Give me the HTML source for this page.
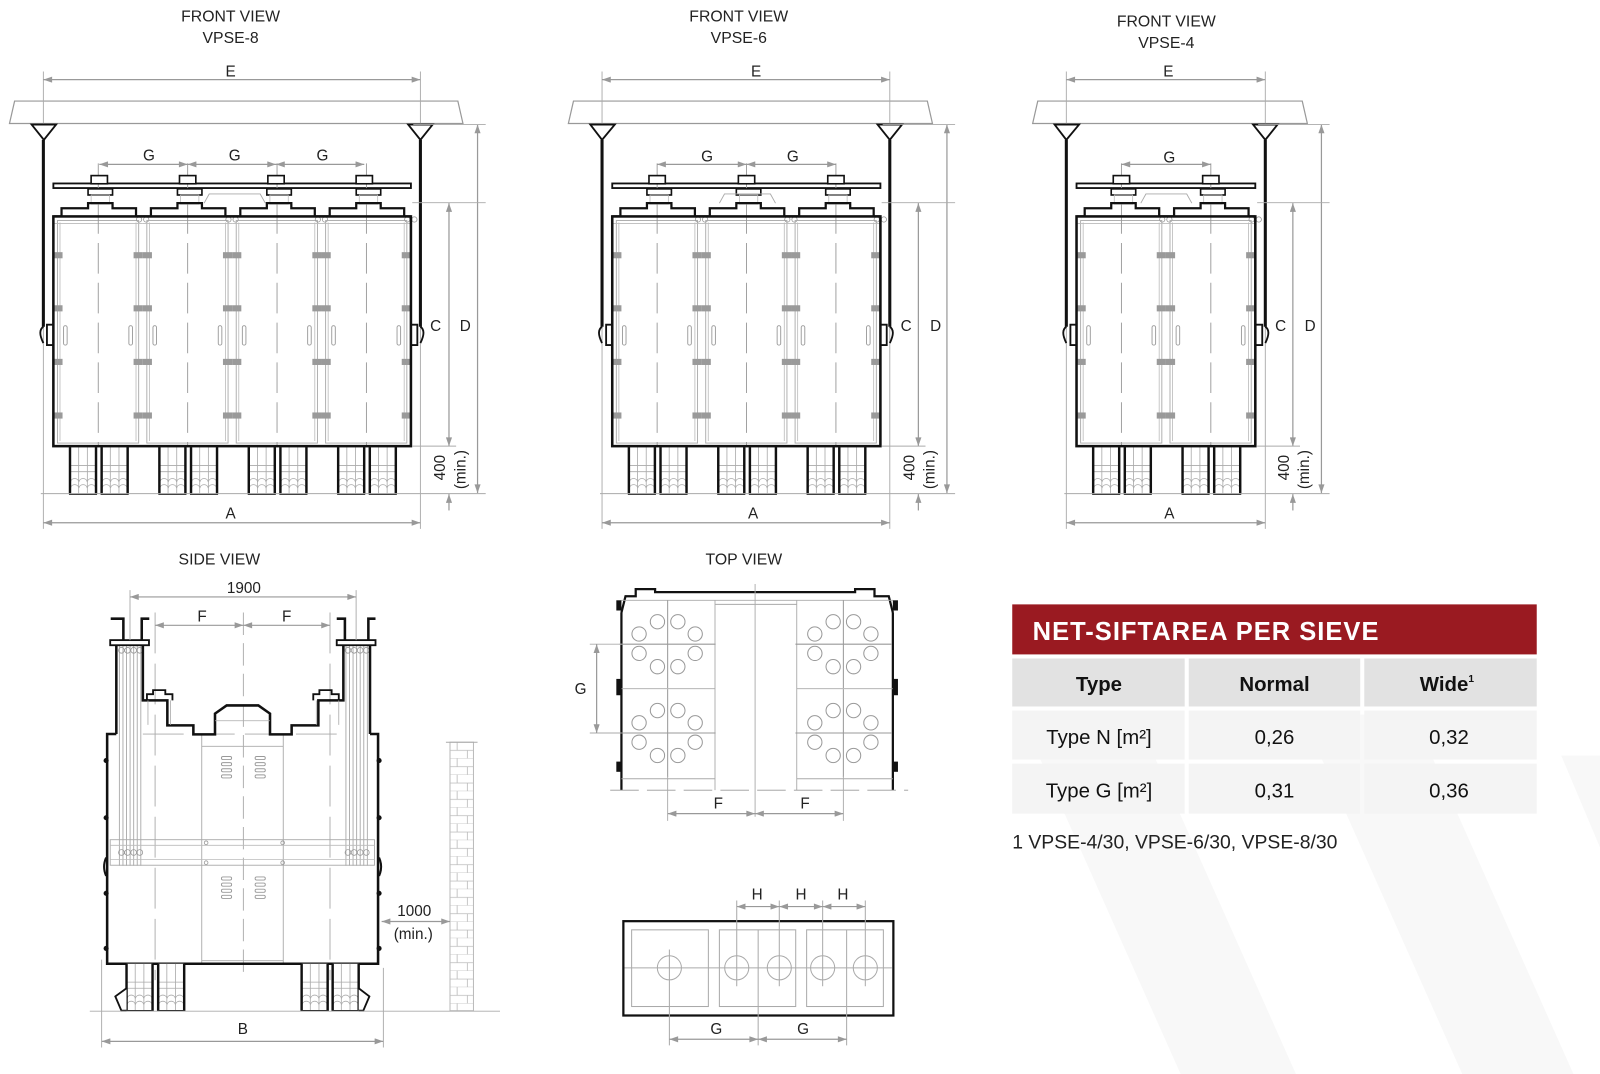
<!DOCTYPE html>
<html><head><meta charset="utf-8"><style>
html,body{margin:0;padding:0;background:#fff;}
svg{display:block;font-family:"Liberation Sans",sans-serif;}
</style></head><body>
<svg width="1600" height="1074" viewBox="0 0 1568 1052" preserveAspectRatio="none" xmlns="http://www.w3.org/2000/svg">
<defs>
<marker id="ar" viewBox="0 0 10 7" refX="10" refY="3.5" markerWidth="9" markerHeight="6" markerUnits="userSpaceOnUse" orient="auto-start-reverse"><path d="M0,0L10,3.5L0,7z" fill="#999"/></marker>
<pattern id="brick" x="441" y="727" width="23" height="16" patternUnits="userSpaceOnUse"><rect width="23" height="16" fill="#fff"/><path d="M0,8H23M0,16H23M7,0V8M17,8V16" stroke="#bbb" stroke-width="0.8"/></pattern>
<g id="leg">
 <rect x="0" y="0" width="25.5" height="46" fill="#fff" stroke="none"/>
 <path d="M8.5,0V46M17,0V46M0,18H25.5M0,24H25.5" stroke="#aaa" stroke-width="0.8" fill="none"/>
 <path d="M0.5,40a4.2,4.2 0 0 1 8.2,0a4.2,4.2 0 0 1 8.2,0a4.2,4.2 0 0 1 8.2,0M0.5,34a4.2,4.2 0 0 1 8.2,0a4.2,4.2 0 0 1 8.2,0a4.2,4.2 0 0 1 8.2,0" stroke="#aaa" stroke-width="0.8" fill="none"/>
 <path d="M0,0V46M25.5,0V46" stroke="#111" stroke-width="2.4"/>
 <path d="M-1,46H26.5" stroke="#111" stroke-width="1.5"/>
</g>
<g id="mod">
 <rect x="4" y="4" width="79.6" height="218" fill="none" stroke="#aaa" stroke-width="0.9"/>
 <path d="M6.5,6V220M81,6V220M0,7H87.6" stroke="#bbb" stroke-width="0.8" fill="none"/>
 <path d="M44,-52V226" stroke="#999" stroke-width="0.9" stroke-dasharray="30 9"/>
 <g fill="#9a9a9a">
  <rect x="0" y="35" width="9" height="6"/><rect x="78.6" y="35" width="9" height="6"/>
  <rect x="0" y="87" width="9" height="6"/><rect x="78.6" y="87" width="9" height="6"/>
  <rect x="0" y="139.5" width="9" height="6"/><rect x="78.6" y="139.5" width="9" height="6"/>
  <rect x="0" y="192" width="9" height="6"/><rect x="78.6" y="192" width="9" height="6"/>
 </g>
 <rect x="10" y="107" width="3.5" height="19" rx="1.7" fill="none" stroke="#999" stroke-width="0.9"/>
 <rect x="74" y="107" width="3.5" height="19" rx="1.7" fill="none" stroke="#999" stroke-width="0.9"/>
 <use href="#leg" x="16.3" y="226"/>
 <use href="#leg" x="47.3" y="226"/>
 <rect x="34" y="-27" width="24" height="6" fill="#fff" stroke="#111" stroke-width="1.6"/>
 <rect x="37" y="-21" width="18" height="9" fill="none" stroke="#bbb" stroke-width="0.8"/>
 <path d="M0,0H8V-8H34V-13H58V-8H81V0H87.6" fill="none" stroke="#111" stroke-width="2.2"/>
 <circle cx="84" cy="3" r="2.6" fill="none" stroke="#999" stroke-width="0.8"/>
 <circle cx="91" cy="3" r="2.6" fill="none" stroke="#999" stroke-width="0.8"/>
</g>
<g id="topbolt"><rect x="-8" y="-8" width="16" height="8" fill="#fff" stroke="#111" stroke-width="1.6"/></g>
<g id="cl"><circle cx="-28" cy="-10" r="7"/><circle cx="-10" cy="-22" r="7"/><circle cx="10" cy="-22" r="7"/><circle cx="27" cy="-10" r="7"/><circle cx="-28" cy="9" r="7"/><circle cx="-10" cy="22" r="7"/><circle cx="10" cy="22" r="7"/><circle cx="27" cy="9" r="7"/><path d="M-47,0H47M0,-43V43"/></g>
</defs>

<g fill="#f8f8f8">
<polygon points="1000,700 1113,700 1270,1052 1157,1052"/>
<polygon points="1276,700 1385,700 1542,1052 1433,1052"/>
<polygon points="1530,740 1568,740 1568,830"/>
</g>

<g font-size="15.5" fill="#222" text-anchor="middle">
<text x="226" y="21">FRONT VIEW</text><text x="226" y="42">VPSE-8</text>
<text x="724" y="21">FRONT VIEW</text><text x="724" y="42">VPSE-6</text>
<text x="1143" y="26">FRONT VIEW</text><text x="1143" y="47">VPSE-4</text>
<text x="215" y="553">SIDE VIEW</text>
<text x="729" y="553">TOP VIEW</text>
</g>

<g>
 <polygon points="9.3,121 14.3,99 448.7,99 453.7,121" fill="#fff" stroke="#999" stroke-width="1.2"/>
 <path d="M42.5,70V518M412,70V518" stroke="#aaa" stroke-width="0.9"/>
 <line x1="42.5" y1="78" x2="412" y2="78" stroke="#999" stroke-width="1.3" marker-start="url(#ar)" marker-end="url(#ar)"/>
 <rect x="52.3" y="179.7" width="350.4" height="4.5" fill="#fff" stroke="#111" stroke-width="1.8"/>
 <use href="#mod" x="52.3" y="212"/><use href="#mod" x="139.9" y="212"/><use href="#mod" x="227.5" y="212"/><use href="#mod" x="315.1" y="212"/>
 <use href="#topbolt" x="97.3" y="180"/><use href="#topbolt" x="183.9" y="180"/><use href="#topbolt" x="270.5" y="180"/><use href="#topbolt" x="357" y="180"/>
 <rect x="52.3" y="212" width="350.4" height="225" fill="none" stroke="#111" stroke-width="2.5"/>
 <path d="M200,199L205,190H255L260,199" fill="none" stroke="#aaa" stroke-width="0.9"/>
 <path d="M42.5,137V320M412,137V320" stroke="#111" stroke-width="3"/>
 <path d="M31,122H55L43,137zM400,122H424L412,137z" fill="#fff" stroke="#111" stroke-width="1.8"/>
 <path d="M42.5,320q-6,4 0,16M52.3,318H46V338H52.3M412,320q6,4 0,16M402.7,318H409V338H402.7" fill="none" stroke="#111" stroke-width="1.8"/>
 <g stroke="#999" stroke-width="1.2" marker-start="url(#ar)" marker-end="url(#ar)">
  <line x1="97.3" y1="161" x2="183.9" y2="161"/><line x1="183.9" y1="161" x2="270.5" y2="161"/><line x1="270.5" y1="161" x2="357" y2="161"/>
  <line x1="440" y1="199" x2="440" y2="437"/><line x1="468" y1="122" x2="468" y2="483"/>
  <line x1="42.5" y1="512" x2="412" y2="512"/>
 </g>
 <path d="M440,500V484" stroke="#999" stroke-width="1.2" marker-end="url(#ar)"/>
 <path d="M404,198.5H476M404,437H447M405,122H476M40,483.5H476" stroke="#aaa" stroke-width="0.9"/>
 <g font-size="15" fill="#222" text-anchor="middle">
  <text x="226" y="75">E</text><text x="146" y="157">G</text><text x="230" y="157">G</text><text x="316" y="157">G</text>
  <text x="427" y="324">C</text><text x="456" y="324">D</text><text x="226" y="508">A</text>
  <text transform="translate(436,458) rotate(-90)">400</text><text transform="translate(456,460) rotate(-90)">(min.)</text>
 </g>
</g>

<g>
 <polygon points="557,121 562,99 908.8,99 913.8,121" fill="#fff" stroke="#999" stroke-width="1.2"/>
 <path d="M590,70V518M872,70V518" stroke="#aaa" stroke-width="0.9"/>
 <line x1="590" y1="78" x2="872" y2="78" stroke="#999" stroke-width="1.3" marker-start="url(#ar)" marker-end="url(#ar)"/>
 <rect x="600" y="179.7" width="262.8" height="4.5" fill="#fff" stroke="#111" stroke-width="1.8"/>
 <use href="#mod" x="600" y="212"/><use href="#mod" x="687.6" y="212"/><use href="#mod" x="775.2" y="212"/>
 <use href="#topbolt" x="644" y="180"/><use href="#topbolt" x="731.6" y="180"/><use href="#topbolt" x="819.2" y="180"/>
 <rect x="600" y="212" width="262.8" height="225" fill="none" stroke="#111" stroke-width="2.5"/>
 <path d="M705,199L710,190H755L760,199" fill="none" stroke="#aaa" stroke-width="0.9"/>
 <path d="M590,137V320M872,137V320" stroke="#111" stroke-width="3"/>
 <path d="M578.5,122H602.5L590,137zM860,122H884L872,137z" fill="#fff" stroke="#111" stroke-width="1.8"/>
 <path d="M590,320q-6,4 0,16M600,318H594V338H600M872,320q6,4 0,16M862.8,318H869V338H862.8" fill="none" stroke="#111" stroke-width="1.8"/>
 <g stroke="#999" stroke-width="1.2" marker-start="url(#ar)" marker-end="url(#ar)">
  <line x1="644" y1="161" x2="731.6" y2="161"/><line x1="731.6" y1="161" x2="819.2" y2="161"/>
  <line x1="900" y1="199" x2="900" y2="437"/><line x1="928" y1="122" x2="928" y2="483"/>
  <line x1="590" y1="512" x2="872" y2="512"/>
 </g>
 <path d="M900,500V484" stroke="#999" stroke-width="1.2" marker-end="url(#ar)"/>
 <path d="M864,198.5H936M864,437H907M865,122H936M588,483.5H936" stroke="#aaa" stroke-width="0.9"/>
 <g font-size="15" fill="#222" text-anchor="middle">
  <text x="741" y="75">E</text><text x="693" y="158">G</text><text x="777" y="158">G</text>
  <text x="888" y="324">C</text><text x="917" y="324">D</text><text x="738" y="508">A</text>
  <text transform="translate(896,458) rotate(-90)">400</text><text transform="translate(916,460) rotate(-90)">(min.)</text>
 </g>
</g>

<g>
 <polygon points="1012,121 1017,99 1276.2,99 1281.2,121" fill="#fff" stroke="#999" stroke-width="1.2"/>
 <path d="M1045,70V518M1240,70V518" stroke="#aaa" stroke-width="0.9"/>
 <line x1="1045" y1="78" x2="1240" y2="78" stroke="#999" stroke-width="1.3" marker-start="url(#ar)" marker-end="url(#ar)"/>
 <rect x="1055" y="179.7" width="175.2" height="4.5" fill="#fff" stroke="#111" stroke-width="1.8"/>
 <use href="#mod" x="1055" y="212"/><use href="#mod" x="1142.6" y="212"/>
 <use href="#topbolt" x="1099" y="180"/><use href="#topbolt" x="1186.6" y="180"/>
 <rect x="1055" y="212" width="175.2" height="225" fill="none" stroke="#111" stroke-width="2.5"/>
 <path d="M1118,199L1123,190H1163L1168,199" fill="none" stroke="#aaa" stroke-width="0.9"/>
 <path d="M1045,137V320M1240,137V320" stroke="#111" stroke-width="3"/>
 <path d="M1033.5,122H1057.5L1045,137zM1228,122H1252L1240,137z" fill="#fff" stroke="#111" stroke-width="1.8"/>
 <path d="M1045,320q-6,4 0,16M1055,318H1049V338H1055M1240,320q6,4 0,16M1230.2,318H1237V338H1230.2" fill="none" stroke="#111" stroke-width="1.8"/>
 <g stroke="#999" stroke-width="1.2" marker-start="url(#ar)" marker-end="url(#ar)">
  <line x1="1099" y1="161" x2="1186.6" y2="161"/>
  <line x1="1267" y1="199" x2="1267" y2="437"/><line x1="1295" y1="122" x2="1295" y2="483"/>
  <line x1="1045" y1="512" x2="1240" y2="512"/>
 </g>
 <path d="M1267,500V484" stroke="#999" stroke-width="1.2" marker-end="url(#ar)"/>
 <path d="M1232,198.5H1303M1232,437H1274M1233,122H1303M1043,483.5H1303" stroke="#aaa" stroke-width="0.9"/>
 <g font-size="15" fill="#222" text-anchor="middle">
  <text x="1145" y="75">E</text><text x="1146" y="159">G</text>
  <text x="1255" y="324">C</text><text x="1284" y="324">D</text><text x="1146" y="508">A</text>
  <text transform="translate(1263,458) rotate(-90)">400</text><text transform="translate(1283,460) rotate(-90)">(min.)</text>
 </g>
</g>

<g>
 <g stroke="#aaa" stroke-width="0.9">
  <path d="M117,632V848M120.5,632V848M124,632V848M127.5,632V848M131,632V848M134.5,632V848M138,632V848"/>
  <path d="M339,632V848M342.5,632V848M346,632V848M349.5,632V848M353,632V848M356.5,632V848M360,632V848"/>
 </g>
 <g fill="none" stroke="#999" stroke-width="0.8">
  <circle cx="119" cy="637" r="2.8"/><circle cx="125" cy="637" r="2.8"/><circle cx="131" cy="637" r="2.8"/><circle cx="137" cy="637" r="2.8"/>
  <circle cx="341" cy="637" r="2.8"/><circle cx="347" cy="637" r="2.8"/><circle cx="353" cy="637" r="2.8"/><circle cx="359" cy="637" r="2.8"/>
 </g>
 <path d="M140,719H336M152,600V960M323.4,600V960" stroke="#aaa" stroke-width="0.9" stroke-dasharray="40 10"/>
 <path d="M197.7,719V944M277.6,719V944M197.7,731H277.6M197.7,941H277.6" stroke="#aaa" stroke-width="0.9" fill="none"/>
 <path d="M238.5,600V955" stroke="#aaa" stroke-width="0.9" stroke-dasharray="22 8"/>
 <rect x="108" y="822.5" width="259" height="25" fill="none" stroke="#aaa" stroke-width="0.9"/>
 <path d="M108,828H367M108,842H367" stroke="#bbb" stroke-width="0.8"/>
 <g fill="none" stroke="#999" stroke-width="0.8">
  <circle cx="202" cy="825.5" r="1.8"/><circle cx="277" cy="825.5" r="1.8"/><circle cx="202" cy="845" r="1.8"/><circle cx="277" cy="845" r="1.8"/>
  <circle cx="119" cy="835" r="2.8"/><circle cx="125" cy="835" r="2.8"/><circle cx="131" cy="835" r="2.8"/><circle cx="137" cy="835" r="2.8"/>
  <circle cx="341" cy="835" r="2.8"/><circle cx="347" cy="835" r="2.8"/><circle cx="353" cy="835" r="2.8"/><circle cx="359" cy="835" r="2.8"/>
 </g>
 <g fill="none" stroke="#999" stroke-width="0.9">
  <rect x="217" y="741" width="10" height="3" rx="1.5"/><rect x="217" y="747" width="10" height="3" rx="1.5"/><rect x="217" y="753" width="10" height="3" rx="1.5"/><rect x="217" y="759" width="10" height="3" rx="1.5"/>
  <rect x="250" y="741" width="10" height="3" rx="1.5"/><rect x="250" y="747" width="10" height="3" rx="1.5"/><rect x="250" y="753" width="10" height="3" rx="1.5"/><rect x="250" y="759" width="10" height="3" rx="1.5"/>
  <rect x="217" y="859" width="10" height="3" rx="1.5"/><rect x="217" y="865" width="10" height="3" rx="1.5"/><rect x="217" y="871" width="10" height="3" rx="1.5"/><rect x="217" y="877" width="10" height="3" rx="1.5"/>
  <rect x="250" y="859" width="10" height="3" rx="1.5"/><rect x="250" y="865" width="10" height="3" rx="1.5"/><rect x="250" y="871" width="10" height="3" rx="1.5"/><rect x="250" y="877" width="10" height="3" rx="1.5"/>
 </g>
 <path d="M114,719H105V944H370.5V719H362.6" fill="none" stroke="#111" stroke-width="2.5"/>
 <path d="M114,632V719M140,632V686H164V710.5H189.5V719.3H210.7V699L222.1,691H253.2L264.6,699V719.3H285.8V710.5H312V686H336.5V632M362.6,632V719" fill="none" stroke="#111" stroke-width="2.5"/>
 <path d="M144,686V680H150V676H162V680H169V686M307,686V680H313V676H325V680H332V686" fill="none" stroke="#111" stroke-width="1.8"/>
 <path d="M145,686V710M167,686V710M310,686V710M332,686V710M210.7,706H264.6" stroke="#aaa" stroke-width="0.8"/>
 <rect x="108" y="627" width="38" height="5" fill="#fff" stroke="#111" stroke-width="1.8"/>
 <rect x="330" y="627" width="38" height="5" fill="#fff" stroke="#111" stroke-width="1.8"/>
 <path d="M108.5,606H120.9V627M146.3,606H138.9V627M330,606H338V627M368,606H361V627" fill="none" stroke="#111" stroke-width="2.5"/>
 <g fill="#111">
  <circle cx="104" cy="745" r="2.5"/><circle cx="104" cy="801" r="2.5"/><circle cx="104" cy="875" r="2.5"/><circle cx="104" cy="929" r="2.5"/>
  <circle cx="371.5" cy="745" r="2.5"/><circle cx="371.5" cy="801" r="2.5"/><circle cx="371.5" cy="875" r="2.5"/><circle cx="371.5" cy="929" r="2.5"/>
 </g>
 <path d="M104,840q-4,9 0,18M371.5,840q4,9 0,18" fill="none" stroke="#111" stroke-width="2"/>
 <use href="#leg" x="124" y="944"/><use href="#leg" x="155" y="944"/>
 <use href="#leg" x="295.6" y="944"/><use href="#leg" x="326" y="944"/>
 <path d="M124,968L113,976L119,990H124M351.5,968L362,976L356,990H351.5" fill="#fff" stroke="#111" stroke-width="1.8"/>
 <rect x="441" y="727" width="23" height="263" fill="url(#brick)" stroke="#bbb" stroke-width="1"/>
 <path d="M437,727H468" stroke="#aaa" stroke-width="1"/>
 <path d="M88,990.5H490M99.6,940V1026M375.7,948V1026M127.4,578V627M349,578V627" stroke="#aaa" stroke-width="0.9"/>
 <g stroke="#999" stroke-width="1.2" marker-start="url(#ar)" marker-end="url(#ar)">
  <line x1="127.4" y1="584.7" x2="349" y2="584.7"/>
  <line x1="152" y1="612.5" x2="238.5" y2="612.5"/><line x1="238.5" y1="612.5" x2="323.4" y2="612.5"/>
  <line x1="374" y1="902.6" x2="441" y2="902.6"/>
  <line x1="99.6" y1="1020" x2="375.7" y2="1020"/>
 </g>
 <g font-size="15" fill="#222" text-anchor="middle">
  <text x="239" y="581">1900</text><text x="198" y="609">F</text><text x="281" y="609">F</text>
  <text x="406" y="897">1000</text><text x="405" y="920">(min.)</text><text x="238" y="1013">B</text>
 </g>
</g>

<g>
 <path d="M609,774V600M875,774V600" stroke="#111" stroke-width="2.2"/>
 <path d="M609,600L613,584H623V577H642V580H838V577H857V584H871L875,600" fill="none" stroke="#111" stroke-width="2.2"/>
 <path d="M609,588H875M700.7,588V774M780.8,588V774M700.7,592H780.8M609,762.8H700.7M780.8,762.8H875M609,674.6H700.7M780.8,674.6H875M740,572V800" stroke="#aaa" stroke-width="0.9" fill="none"/>
 <path d="M598,774H890" stroke="#999" stroke-width="0.9" stroke-dasharray="28 8"/>
 <g fill="#111">
  <rect x="604" y="588" width="5" height="10"/><rect x="604" y="665" width="5" height="16"/><rect x="604" y="746" width="5" height="10"/>
  <rect x="875" y="588" width="5" height="10"/><rect x="875" y="665" width="5" height="16"/><rect x="875" y="746" width="5" height="10"/>
 </g>
 <g fill="none" stroke="#999" stroke-width="1">
  <use href="#cl" x="654.3" y="631"/><use href="#cl" x="654.3" y="718"/>
  <use href="#cl" x="826.5" y="631"/><use href="#cl" x="826.5" y="718"/>
 </g>
 <path d="M578,631H609M578,718H609M654.3,760V804M826.5,760V804" stroke="#aaa" stroke-width="0.9"/>
 <g stroke="#999" stroke-width="1.2" marker-start="url(#ar)" marker-end="url(#ar)">
  <line x1="584.7" y1="631" x2="584.7" y2="718"/>
  <line x1="654.3" y1="797" x2="740" y2="797"/><line x1="740" y1="797" x2="826.5" y2="797"/>
 </g>
 <g font-size="15" fill="#222" text-anchor="middle">
  <text x="569" y="680">G</text><text x="704" y="792">F</text><text x="789" y="792">F</text>
 </g>
</g>

<g>
 <rect x="610.9" y="902.3" width="264.6" height="92.4" fill="none" stroke="#111" stroke-width="2.2"/>
 <g fill="none" stroke="#aaa" stroke-width="1">
  <rect x="619" y="910.8" width="75.2" height="75.1"/><rect x="705" y="910.8" width="74.8" height="75.1"/><rect x="790.5" y="910.8" width="75.2" height="75.1"/>
  <path d="M743,910.8V985.9M829.7,910.8V985.9M612,948H874"/>
  <circle cx="656" cy="948" r="11.8"/><circle cx="722" cy="948" r="11.8"/><circle cx="763.7" cy="948" r="11.8"/><circle cx="806.2" cy="948" r="11.8"/><circle cx="848" cy="948" r="11.8"/>
  <path d="M656,930V1024M722,882V966M763.7,882V966M806.2,882V966M848,882V966M743,986V1024M829.7,986V1024"/>
 </g>
 <g stroke="#999" stroke-width="1.2" marker-start="url(#ar)" marker-end="url(#ar)">
  <line x1="722" y1="888" x2="763.7" y2="888"/><line x1="763.7" y1="888" x2="806.2" y2="888"/><line x1="806.2" y1="888" x2="848" y2="888"/>
  <line x1="656" y1="1018" x2="743" y2="1018"/><line x1="743" y1="1018" x2="829.7" y2="1018"/>
 </g>
 <g font-size="15" fill="#222" text-anchor="middle">
  <text x="742" y="881">H</text><text x="785" y="881">H</text><text x="826" y="881">H</text>
  <text x="702" y="1013">G</text><text x="787" y="1013">G</text>
 </g>
</g>

<g>
 <rect x="992" y="592" width="514" height="49" fill="#9a1a21"/>
 <text x="1012" y="627" font-size="25" font-weight="bold" fill="#fff" letter-spacing="1">NET-SIFTAREA PER SIEVE</text>
 <rect x="992" y="645" width="169" height="47" fill="#e2e2e2"/><rect x="1165" y="645" width="168" height="47" fill="#e2e2e2"/><rect x="1337" y="645" width="169" height="47" fill="#e2e2e2"/>
 <rect x="992" y="696" width="169" height="48" fill="#f4f4f4"/><rect x="1165" y="696" width="168" height="48" fill="#f4f4f4"/><rect x="1337" y="696" width="169" height="48" fill="#f4f4f4"/>
 <rect x="992" y="748" width="169" height="49" fill="#f4f4f4"/><rect x="1165" y="748" width="168" height="49" fill="#f4f4f4"/><rect x="1337" y="748" width="169" height="49" fill="#f4f4f4"/>
 <g font-size="20" fill="#111" text-anchor="middle">
  <text x="1077" y="677" font-weight="bold">Type</text>
  <text x="1249" y="677" font-weight="bold">Normal</text>
  <text x="1418" y="677" font-weight="bold">Wide<tspan font-size="10" dy="-9">1</tspan></text>
  <text x="1077" y="729">Type N [m²]</text><text x="1249" y="729">0,26</text><text x="1420" y="729">0,32</text>
  <text x="1077" y="781">Type G [m²]</text><text x="1249" y="781">0,31</text><text x="1420" y="781">0,36</text>
 </g>
 <text x="992" y="831" font-size="19" fill="#222">1  VPSE-4/30, VPSE-6/30, VPSE-8/30</text>
</g>
</svg>
</body></html>
